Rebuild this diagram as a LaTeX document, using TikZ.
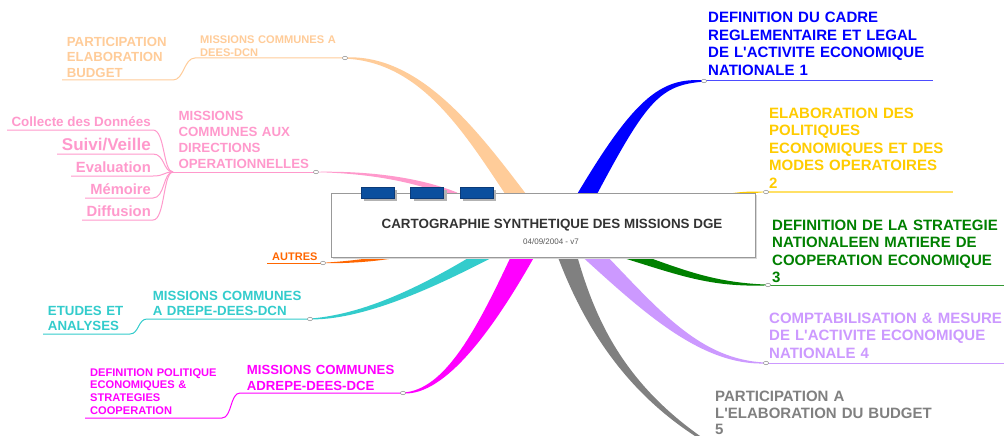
\documentclass[tikz,border=0pt]{standalone}
\usepackage{fontspec}
\setmainfont{Liberation Sans}[Ligatures=TeXOff]
\usetikzlibrary{calc,shapes.geometric,shadows}
\definecolor{cPeach}{HTML}{FFCC99}
\definecolor{cPink}{HTML}{FF99CC}
\definecolor{cOrange}{HTML}{FF6600}
\definecolor{cTeal}{HTML}{33CCCC}
\definecolor{cMag}{HTML}{FF00FF}
\definecolor{cBlue}{HTML}{0000FF}
\definecolor{cYel}{HTML}{FFCC00}
\definecolor{cGreen}{HTML}{008000}
\definecolor{cLilac}{HTML}{CC99FF}
\definecolor{cGray}{HTML}{808080}
\definecolor{cTab}{HTML}{0B4F9E}
\definecolor{cTabD}{HTML}{0A3A78}
\newcommand\mmbranch[7]{%
  \fill[#1] ($(#2)+(#6)$) .. controls ($(#3)+0.7*(#6)$) and ($(#4)+(#7)$) .. ($(#5)+0.15*(#7)$)
    -- ($(#5)-0.15*(#7)$) .. controls ($(#4)-(#7)$) and ($(#3)-0.7*(#6)$) .. ($(#2)-(#6)$) -- cycle;}
\begin{document}
\begin{tikzpicture}[x=1pt,y=-1pt,
  rt/.style={anchor=base west,inner sep=0pt,text width=300pt,align=left,font=\bfseries\fontsize{15}{17.5}\selectfont},
  ml/.style={anchor=base west,inner sep=0pt,text width=220pt,align=left,font=\bfseries\fontsize{13.3}{15.8}\selectfont},
  sm/.style={anchor=base west,inner sep=0pt,text width=200pt,align=left,font=\bfseries\fontsize{11.1}{12.8}\selectfont},
  leaf/.style={anchor=base east,inner sep=0pt,text=cPink},
  sub/.style={line width=1pt},
  knot/.style={draw=black!45,fill=white,line width=0.5pt,ellipse,inner sep=0pt,minimum width=5pt,minimum height=3.5pt},
  tab/.style={fill=cTab,draw=cTabD,line width=0.4pt,minimum width=33pt,minimum height=11pt,inner sep=0pt,
    drop shadow={shadow xshift=3pt,shadow yshift=-3pt,fill=black!30,opacity=1}},
]
\fill[white] (0,0) rectangle (1004,436);
\useasboundingbox (0,0) rectangle (1004,436);

% branch coordinates
\coordinate (sPeach) at (517,196);  \coordinate (kPeach) at (345,58);
\coordinate (sPink) at (457,196);   \coordinate (kPink) at (316,172);
\coordinate (sOrange) at (420,250); \coordinate (kOrange) at (323,263);
\coordinate (sTeal) at (487,254);   \coordinate (kTeal) at (310,319);
\coordinate (sMag) at (525,252);    \coordinate (kMag) at (403,393);
\coordinate (sGray) at (566,252);   \coordinate (kGray) at (720,450);
\coordinate (sLilac) at (590,252);  \coordinate (kLilac) at (766,363);
\coordinate (sGreen) at (617,251);  \coordinate (kGreen) at (768,285);
\coordinate (sBlue) at (586,196);   \coordinate (kBlue) at (704,81);
\coordinate (sYel) at (700,205);    \coordinate (kYel) at (766,192);

% tapered branches
\mmbranch{cPeach}{sPeach}{470,130}{420,58}{kPeach}{-10.5,0}{0,4}
\mmbranch{cPink}{sPink}{420,180}{370,172}{kPink}{0,-3.5}{0,-1.2}
\mmbranch{cOrange}{sOrange}{390,258}{360,262}{kOrange}{0,-3}{0,-1.5}
\mmbranch{cTeal}{sTeal}{440,280}{370,317}{kTeal}{-12,0}{0,-3}
\mmbranch{cMag}{sMag}{485,330}{445,393}{kMag}{-12,0}{0,-3}
\mmbranch{cGray}{sGray}{588,320}{625,395}{kGray}{-10,0}{0,5}
\mmbranch{cLilac}{sLilac}{650,310}{700,363}{kLilac}{-13,0}{0,3}
\mmbranch{cGreen}{sGreen}{680,272}{710,285}{kGreen}{0,-5}{0,-2.5}
\mmbranch{cBlue}{sBlue}{640,100}{660,81}{kBlue}{-10,0}{0,-4}
\mmbranch{cYel}{sYel}{720,196}{740,192}{kYel}{0,-3}{0,-1.5}

% free ends of sub lines
\coordinate (ePeach) at (62,80);
\coordinate (fan) at (173,172);
\coordinate (eColl) at (7,130);
\coordinate (eSuiv) at (57,154);
\coordinate (eEval) at (71,176);
\coordinate (eMem) at (85,198);
\coordinate (eDiff) at (82,220);
\coordinate (eOrange) at (267,263);
\coordinate (eTeal) at (43,334);
\coordinate (eMag) at (85,418);
\coordinate (eBlue) at (933,81);
\coordinate (eYel) at (953,192);
\coordinate (eGreen) at (1004,285);
\coordinate (eLilac) at (1004,363);

\draw[sub,cPeach] (kPeach) -- (195,58) .. controls (184,58) and (184,80) .. (173,80) -- (ePeach);
\draw[sub,cPink] (kPink) -- (fan);
\draw[sub,cPink] (fan) .. controls (163,172) and (165,130) .. (153,130) -- (eColl);
\draw[sub,cPink] (fan) .. controls (163,172) and (165,154) .. (153,154) -- (eSuiv);
\draw[sub,cPink] (fan) .. controls (163,172) and (165,176) .. (153,176) -- (eEval);
\draw[sub,cPink] (fan) .. controls (163,172) and (165,198) .. (153,198) -- (eMem);
\draw[sub,cPink] (fan) .. controls (163,172) and (165,220) .. (153,220) -- (eDiff);
\draw[sub,cOrange] (kOrange) -- (eOrange);
\draw[sub,cTeal] (kTeal) -- (147,319) .. controls (138,319) and (139,334) .. (130,334) -- (eTeal);
\draw[sub,cMag] (kMag) -- (240,393) .. controls (230,393) and (232,418) .. (222,418) -- (eMag);
\draw[sub,cBlue!70] (kBlue) -- (eBlue);
\draw[sub,cYel!60,line width=1.5pt] (kYel) -- (eYel);
\draw[sub,cGreen!80] (kGreen) -- (eGreen);
\draw[sub,cLilac] (kLilac) -- (eLilac);

% knots
\node[knot] (nPeach) at (kPeach) {};
\node[knot] (nPink) at (kPink) {};
\node[knot] (nOrange) at (kOrange) {};
\node[knot] (nTeal) at (kTeal) {};
\node[knot] (nMag) at (kMag) {};
\node[knot] (nLilac) at (kLilac) {};
\node[knot] (nGreen) at (kGreen) {};
\node[knot] (nBlue) at (kBlue) {};
\node[knot] (nYel) at (kYel) {};

% central box
\node[draw=black!40,line width=0.8pt,fill=white,minimum width=424pt,minimum height=64pt,inner sep=0pt,
  drop shadow={shadow xshift=2pt,shadow yshift=-2pt,fill=black!15,opacity=1}] (box) at (543,225) {};
\node[tab] (tab1) at (377.5,192.8) {};
\node[tab] (tab2) at (427,192.8) {};
\node[tab] (tab3) at (476.5,192.8) {};
\node[anchor=base,inner sep=0pt,font=\bfseries\fontsize{13.4}{15}\selectfont,text=black!80] (title) at (552,228.3) {CARTOGRAPHIE SYNTHETIQUE DES MISSIONS DGE};
\node[anchor=base,inner sep=0pt,font=\fontsize{8}{9}\selectfont,text=black!65] (date) at (551,244) {04/09/2004 - v7};

% right texts
\node[rt,text=cBlue] (tBlue) at (708,23) {DEFINITION DU CADRE\\REGLEMENTAIRE ET LEGAL\\DE L'ACTIVITE ECONOMIQUE\\NATIONALE 1};
\node[rt,text=cYel] (tYel) at (769,118.3) {ELABORATION DES\\POLITIQUES\\ECONOMIQUES ET DES\\MODES OPERATOIRES\\2};
\node[rt,text=cGreen] (tGreen) at (772,230) {DEFINITION DE LA STRATEGIE\\NATIONALEEN MATIERE DE\\COOPERATION ECONOMIQUE\\3};
\node[rt,text=cLilac] (tLilac) at (769,323.3) {COMPTABILISATION \& MESURE\\DE L'ACTIVITE ECONOMIQUE\\NATIONALE 4};
\node[rt,text=cGray,font=\bfseries\fontsize{15}{16.7}\selectfont] (tGray) at (715,401.5) {PARTICIPATION A\\L'ELABORATION DU BUDGET\\5};

% left texts
\node[sm,text=cPeach] (tPeachA) at (200,43.3) {MISSIONS COMMUNES A\\DEES-DCN};
\node[anchor=base west,inner sep=0pt,text width=200pt,align=left,font=\bfseries\fontsize{13.2}{15.3}\selectfont,text=cPeach] (tPeachB) at (66.7,46.7) {PARTICIPATION\\ELABORATION\\BUDGET};
\node[ml,text=cPink] (tPink) at (178.3,121) {MISSIONS\\COMMUNES AUX\\DIRECTIONS\\OPERATIONNELLES};
\node[leaf,font=\bfseries\fontsize{13.4}{15}\selectfont] (lColl) at (151,126.7) {Collecte des Données};
\node[leaf,font=\bfseries\fontsize{17}{19}\selectfont] (lSuiv) at (151,150.7) {Suivi/Veille};
\node[leaf,font=\bfseries\fontsize{14.8}{17}\selectfont] (lEval) at (151,172.7) {Evaluation};
\node[leaf,font=\bfseries\fontsize{14.7}{17}\selectfont] (lMem) at (151,194) {Mémoire};
\node[leaf,font=\bfseries\fontsize{14.8}{17}\selectfont] (lDiff) at (151,216) {Diffusion};
\node[anchor=base west,inner sep=0pt,font=\bfseries\fontsize{11}{12}\selectfont,text=cOrange] (tOrange) at (272,260) {AUTRES};
\node[ml,text=cTeal] (tTealA) at (152.7,300) {MISSIONS COMMUNES\\A DREPE-DEES-DCN};
\node[ml,text=cTeal] (tTealB) at (47.7,315) {ETUDES ET\\ANALYSES};
\node[ml,text=cMag,font=\bfseries\fontsize{13.2}{16}\selectfont] (tMagA) at (246.7,374) {MISSIONS COMMUNES\\ADREPE-DEES-DCE};
\node[sm,text=cMag] (tMagB) at (90,376) {DEFINITION POLITIQUE\\ECONOMIQUES \&\\STRATEGIES\\COOPERATION};
\end{tikzpicture}
\end{document}
